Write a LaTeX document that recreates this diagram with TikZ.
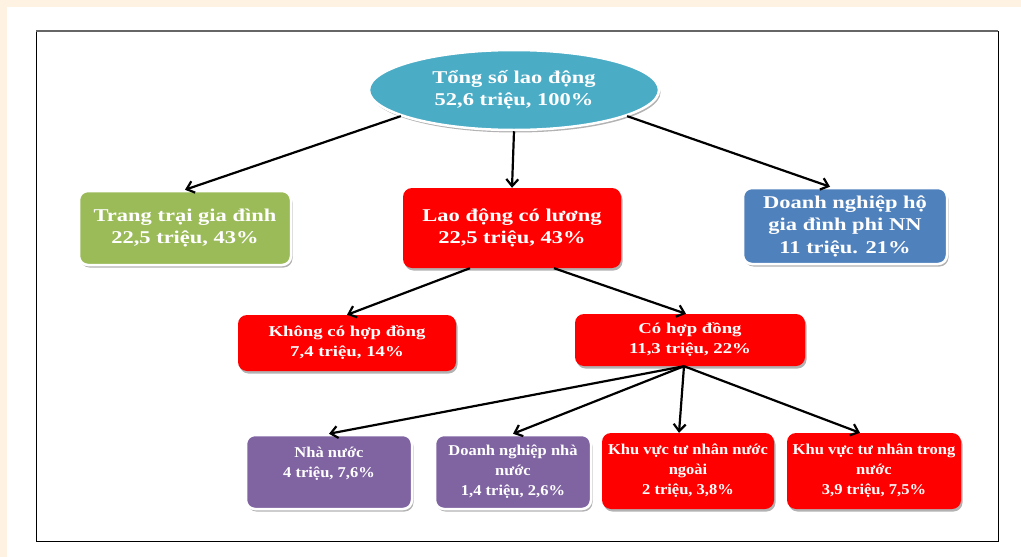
\documentclass[tikz,border=0pt]{standalone}
\usepackage{fontspec}
\setmainfont{Liberation Serif}
\newfontfamily\wideA[FakeStretch=1.25]{Liberation Serif}
\newfontfamily\wideB[FakeStretch=1.1]{Liberation Serif}
\usetikzlibrary{shapes.geometric,shadows,arrows.meta}
\definecolor{cream}{HTML}{FEF3E2}
\definecolor{tealc}{HTML}{4BACC6}
\definecolor{greenc}{HTML}{9BBB59}
\definecolor{bluec}{HTML}{4F81BD}
\definecolor{purplec}{HTML}{8064A2}
\definecolor{redc}{HTML}{FF0000}
\tikzset{
  shad/.style={drop shadow={shadow xshift=1.5pt,shadow yshift=-2.5pt,fill=black,opacity=0.3}},
  basebox/.style={rectangle,rounded corners=9pt,text=white,align=center,inner sep=2pt,shad},
  whitebox/.style={basebox,draw=white,line width=2.5pt},
  lvlone/.style={font=\wideA\bfseries\fontsize{18}{22.5}\selectfont},
  lvltwo/.style={font=\wideA\bfseries\fontsize{15}{20}\selectfont},
  lvlthree/.style={font=\wideB\bfseries\fontsize{15}{20}\selectfont},
  arr/.style={-{Straight Barb[length=7pt,width=12pt,line width=2.2pt]},line width=2.2pt,black},
}
\begin{document}
\begin{tikzpicture}[x=1pt,y=-1pt]
\useasboundingbox (0,0) rectangle (1021,557);
\fill[cream] (0,0) rectangle (1021,557);
\fill[white] (7,7) rectangle (1021,557);
\draw[line width=1pt] (36,31) rectangle (998,541);
\draw[line width=1.5pt,black!60] (36,31) -- (998,31);

\node[ellipse,fill=tealc,draw=white,line width=2.5pt,shad,minimum width=290pt,minimum height=80pt,inner sep=0pt,text=white,align=center,font=\wideA\bfseries\fontsize{18}{22}\selectfont] (e) at (514,90) {Tổng số lao động\\52,6 triệu, 100\%};

\node[whitebox,lvlone,fill=greenc,minimum width=212pt,minimum height=74pt] (g) at (185,228) {Trang trại gia đình\\22,5 triệu, 43\%};
\node[basebox,lvlone,fill=redc,minimum width=218pt,minimum height=80pt] (ld) at (512,228) {Lao động có lương\\22,5 triệu, 43\%};
\node[whitebox,lvlone,fill=bluec,minimum width=204pt,minimum height=76pt] (b) at (845,226) {Doanh nghiệp hộ\\gia đình phi NN\\11 triệu. 21\%};

\node[basebox,lvltwo,fill=redc,minimum width=218pt,minimum height=56pt] (k) at (347,343) {Không có hợp đồng\\7,4 triệu, 14\%};
\node[basebox,lvltwo,fill=redc,minimum width=230pt,minimum height=52pt] (c) at (690,340) {Có hợp đồng\\11,3 triệu, 22\%};

\node[whitebox,lvlthree,fill=purplec,minimum width=166pt,minimum height=74pt] (nn) at (329,472) {Nhà nước\\4 triệu, 7,6\%\\\mbox{}};
\node[whitebox,lvlthree,fill=purplec,minimum width=156pt,minimum height=74pt] (dn) at (513,472) {Doanh nghiệp nhà\\nước\\1,4 triệu, 2,6\%};
\node[basebox,lvlthree,fill=redc,minimum width=172pt,minimum height=76pt] (kn) at (688,471) {Khu vực tư nhân nước\\ngoài\\2 triệu, 3,8\%};
\node[basebox,lvlthree,fill=redc,minimum width=174pt,minimum height=76pt] (kt) at (874,471) {Khu vực tư nhân trong\\nước\\3,9 triệu, 7,5\%};

\draw[arr] (e.193) -- (g.north);
\draw[arr] (e.south) -- (ld.north);
\draw[arr] (e.-13) -- ([xshift=-15pt]b.north);
\draw[arr] ([xshift=-42pt]ld.south) -- (k.north);
\draw[arr] ([xshift=42pt]ld.south) -- ([xshift=-4pt]c.north);
\draw[arr] ([xshift=-6pt]c.south) -- (nn.north);
\draw[arr] ([xshift=-6pt]c.south) -- (dn.north);
\draw[arr] ([xshift=-6pt]c.south) -- ([xshift=-9pt]kn.north);
\draw[arr] ([xshift=-6pt]c.south) -- ([xshift=-14pt]kt.north);
\end{tikzpicture}
\end{document}
